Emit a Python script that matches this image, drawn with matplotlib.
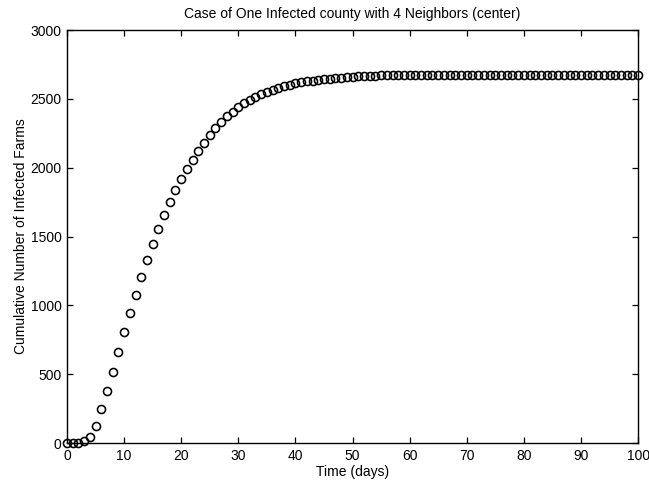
import matplotlib
matplotlib.use("Agg")
import matplotlib.pyplot as plt

plt.rcParams['font.family'] = ['Liberation Sans', 'DejaVu Sans']

days = list(range(0, 101))
infected = [
    0, 0, 2, 12, 45, 125, 245, 378, 517, 660,
    803, 942, 1075, 1207, 1330, 1446, 1552, 1655, 1748, 1838,
    1916, 1990, 2056, 2122, 2182, 2240, 2288, 2330, 2372, 2408,
    2440, 2468, 2494, 2516, 2536, 2553, 2568, 2581, 2593, 2603,
    2612, 2620, 2627, 2633, 2639, 2644, 2648, 2652, 2655, 2658,
    2661, 2663, 2665, 2667, 2669, 2670, 2671, 2672, 2673, 2674,
    2675, 2675, 2676, 2676, 2676, 2677, 2677, 2677, 2677, 2677,
    2677, 2677, 2677, 2677, 2677, 2677, 2677, 2677, 2677, 2677,
    2677, 2677, 2677, 2677, 2677, 2677, 2677, 2677, 2677, 2677,
    2677, 2677, 2677, 2677, 2677, 2677, 2677, 2677, 2677, 2677,
    2677,
]
x_ticks = [0, 10, 20, 30, 40, 50, 60, 70, 80, 90, 100]
y_ticks = [0, 500, 1000, 1500, 2000, 2500, 3000]

fig = plt.figure(figsize=(6.49, 4.87), dpi=100)
ax = fig.add_axes([0.1032, 0.0903, 0.880, 0.848])
ax.plot(days, infected, linestyle='none', marker='o', markersize=5.8,
        markerfacecolor='none', markeredgecolor='black', markeredgewidth=1.15,
        clip_on=False)
ax.set_xlim(0, 100)
ax.set_ylim(0, 3000)
ax.set_xticks(x_ticks)
ax.set_yticks(y_ticks)
ax.tick_params(direction='in', top=True, right=True, length=4, width=0.9,
               labelsize=10, colors='black', pad=4)
for s in ax.spines.values():
    s.set_linewidth(1.0)
ax.set_xlabel('Time (days)', fontsize=10, labelpad=2)
ax.set_ylabel('Cumulative Number of Infected Farms', fontsize=10, labelpad=2)
ax.set_title('Case of One Infected county with 4 Neighbors (center)', fontsize=10, pad=9)
fig.savefig('out.png', dpi=100)
